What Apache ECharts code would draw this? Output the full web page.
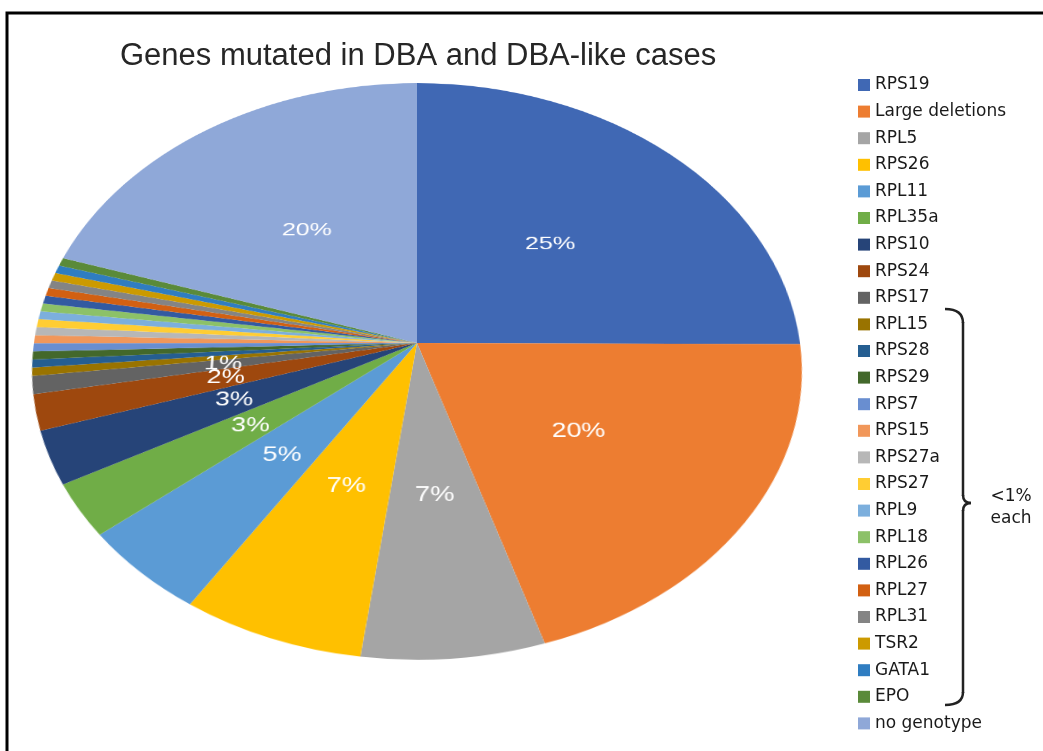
<!DOCTYPE html>
<html>
<head>
<meta charset="utf-8">
<script src="https://cdn.jsdelivr.net/npm/echarts@6/dist/echarts.min.js"></script>
<style>
  html, body { margin: 0; padding: 0; width: 1043px; height: 751px; overflow: hidden; background: #ffffff; }
  #base { position: absolute; left: 0; top: 0; width: 1043px; height: 751px; z-index: 1; }
  #pie { position: absolute; left: 17px; top: -57px; width: 800px; height: 800px; z-index: 2;
         transform-origin: 400px 400px; transform: perspective(2585px) rotateX(41.8deg); }
</style>
</head>
<body>
<div id="base"></div>
<div id="pie"></div>
<script>
// ---- data ----
const categories = ['RPS19', 'Large deletions', 'RPL5', 'RPS26', 'RPL11', 'RPL35a', 'RPS10', 'RPS24', 'RPS17',
  'RPL15', 'RPS28', 'RPS29', 'RPS7', 'RPS15', 'RPS27a', 'RPS27', 'RPL9', 'RPL18', 'RPL26', 'RPL27', 'RPL31',
  'TSR2', 'GATA1', 'EPO', 'no genotype'];
const values = [25, 20, 7, 7, 5, 3, 3, 2, 1,
  0.45, 0.45, 0.45, 0.45, 0.45, 0.45, 0.45, 0.45, 0.45, 0.45, 0.45, 0.45, 0.45, 0.45, 0.45,
  20];
const colors = ['#4068B4', '#ED7D31', '#A5A5A5', '#FFC000', '#5B9BD5', '#70AD47', '#264478', '#9E480E', '#636363',
  '#997300', '#255E91', '#43682B', '#698ED0', '#F1975A', '#B7B7B7', '#FFCD33', '#7CAFDD', '#8CC168', '#335AA1',
  '#D26012', '#848484', '#CC9A00', '#2F7DC1', '#5A8A39', '#8FA8D8'];
const titleText = 'Genes mutated in DBA and DBA-like cases';
const bracketLines = ['<1%', 'each'];

const seriesData = categories.map((c, i) => ({ name: c, value: values[i] }));

// ---- pie (tilted in perspective like the original) ----
const pieChart = echarts.init(document.getElementById('pie'), null, { renderer: 'canvas' });
pieChart.setOption({
  animation: false,
  color: colors,
  series: [{
    type: 'pie',
    center: ['50%', '50%'],
    radius: 383,
    startAngle: 90,
    clockwise: true,
    avoidLabelOverlap: false,
    silent: true,
    itemStyle: { borderWidth: 0 },
    emphasis: { disabled: true },
    labelLayout: { hideOverlap: false },
    label: {
      show: true,
      position: 'inside',
      color: '#ffffff',
      fontFamily: 'Liberation Sans',
      fontSize: 26,
      formatter: p => (p.value >= 1 ? Math.round(p.percent) + '%' : '')
    },
    labelLine: { show: false },
    data: seriesData
  }]
});

// ---- title, legend, frame, bracket ----
const braceStyle = { fill: 'none', stroke: '#222', lineWidth: 2.5 };
const baseChart = echarts.init(document.getElementById('base'), null, { renderer: 'canvas' });
baseChart.setOption({
  animation: false,
  color: colors,
  title: {
    text: titleText,
    left: 120,
    top: 41,
    padding: 0,
    textStyle: { fontFamily: 'Liberation Sans', fontSize: 31, fontWeight: 'normal', color: '#262626' }
  },
  legend: {
    orient: 'vertical',
    left: 858,
    top: 76,
    padding: 0,
    itemWidth: 12,
    itemHeight: 12,
    itemGap: 8.6,
    icon: 'rect',
    selectedMode: false,
    textStyle: { fontFamily: 'DejaVu Sans', fontSize: 17, color: '#1a1a1a', lineHeight: 18 },
    data: categories
  },
  series: [{
    type: 'pie',
    radius: 0,
    center: [-100, -100],
    silent: true,
    label: { show: false },
    labelLine: { show: false },
    data: seriesData
  }],
  graphic: [
    { type: 'rect', shape: { x: 7, y: 13, width: 1100, height: 800 },
      style: { fill: 'none', stroke: '#000', lineWidth: 3 } },
    { type: 'bezierCurve', shape: { x1: 945, y1: 309, cpx1: 963, cpy1: 309, x2: 963, y2: 323 }, style: braceStyle },
    { type: 'line', shape: { x1: 963, y1: 322, x2: 963, y2: 496 }, style: braceStyle },
    { type: 'bezierCurve', shape: { x1: 963, y1: 495, cpx1: 963, cpy1: 503, x2: 971, y2: 503 }, style: braceStyle },
    { type: 'bezierCurve', shape: { x1: 971, y1: 503, cpx1: 963, cpy1: 503, x2: 963, y2: 511 }, style: braceStyle },
    { type: 'line', shape: { x1: 963, y1: 510, x2: 963, y2: 693 }, style: braceStyle },
    { type: 'bezierCurve', shape: { x1: 963, y1: 692, cpx1: 963, cpy1: 705, x2: 945, y2: 705 }, style: braceStyle },
    { type: 'text', x: 1011, y: 497,
      style: { text: bracketLines[0], fontFamily: 'DejaVu Sans', fontSize: 17, fill: '#1a1a1a', align: 'center', verticalAlign: 'middle' } },
    { type: 'text', x: 1011, y: 519,
      style: { text: bracketLines[1], fontFamily: 'DejaVu Sans', fontSize: 17, fill: '#1a1a1a', align: 'center', verticalAlign: 'middle' } }
  ]
});
</script>
</body>
</html>
